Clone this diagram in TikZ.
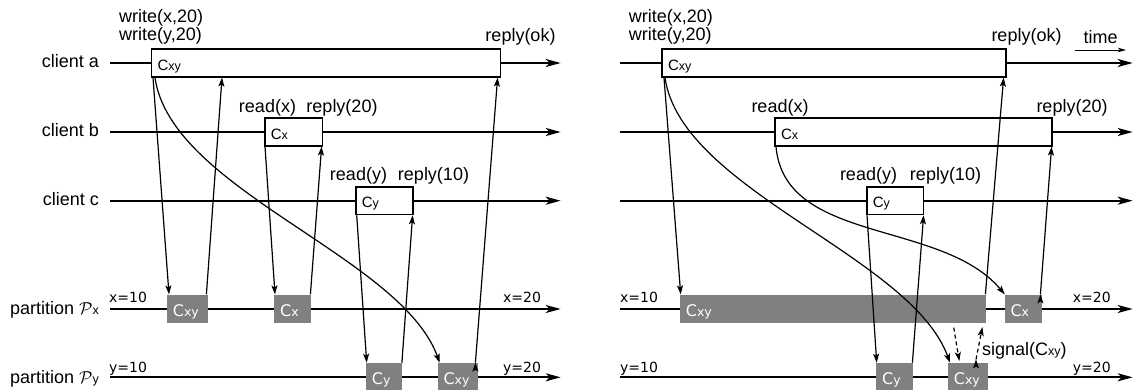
\documentclass[tikz,border=0pt]{standalone}
\usepackage{fontspec}
\setmainfont{Liberation Sans}
\newfontfamily\dejavu{DejaVu Sans}
\usetikzlibrary{positioning,arrows.meta}
\definecolor{opgray}{RGB}{128,128,128}
\newcommand{\idx}[1]{{\fontsize{12.5}{12.5}\selectfont #1}}
\tikzset{lane/.style={line width=2.2pt,-{Stealth[length=15pt,width=8pt,inset=4pt]}},
  call node/.style={draw,fill=white,line width=1.6pt,anchor=west,minimum height=27.5pt,
    inner xsep=6pt,inner ysep=0pt,text width=#1,align=left,text height=14pt,text depth=0pt,
    execute at begin node=\fontsize{15}{15}\selectfont},
  op node/.style={fill=opgray,text=white,anchor=west,minimum height=28.8pt,
    inner xsep=6pt,inner ysep=0pt,text width=#1,align=left,text height=14.6pt,text depth=0pt,
    execute at begin node=\dejavu\fontsize{16}{16}\selectfont},
  msg/.style={draw,line width=1.2pt,-{Stealth[length=9pt,width=6pt,inset=2pt]}},
  tag/.style={inner sep=0pt},
  value/.style={inner sep=0pt,anchor=base west,font=\dejavu\fontsize{14}{14}\selectfont},
}

\begin{document}
\begin{tikzpicture}[x=1pt,y=-1pt,font=\fontsize{18}{16.7}\selectfont]
      \useasboundingbox (0,0) rectangle (1135,389);

      % time lines, left and right run
      \foreach \n/\y in {a/63,b/132,c/200.7,px/309,py/377.3}{
        \coordinate (\n0) at (110,\y);  \coordinate (\n9) at (560.7,\y);
        \coordinate (r\n0) at (620,\y); \coordinate (r\n9) at (1132.7,\y);
        \draw[lane] (\n0) -- (\n9);
        \draw[lane] (r\n0) -- (r\n9);
      }

      \node[tag,anchor=base east] (ta) at (99,67.5) {client a};
      \node[tag,anchor=base east] (tb) at (99,136.5) {client b};
      \node[tag,anchor=base east] (tc) at (99,205.2) {client c};
      \node[tag,anchor=base east] (tx) at (99,314.7) {partition $\mathcal{P}$\idx{x}};
      \node[tag,anchor=base east] (ty) at (99,383) {partition $\mathcal{P}$\idx{y}};

      \node[value] (x1) at (109,302) {x=10};
      \node[value] (x2) at (503,302) {x=20};
      \node[value] (y1) at (109,372.5) {y=10};
      \node[value] (y2) at (503,372.5) {y=20};
      \node[value] (rx1) at (620,302) {x=10};
      \node[value] (rx2) at (1072.7,302) {x=20};
      \node[value] (ry1) at (620,372.5) {y=10};
      \node[value] (ry2) at (1072.7,372.5) {y=20};

      % left run
      \node[call node=337pt] (a1) at (150.7,63) {C\idx{xy}};
      \node[call node=45.7pt] (b1) at (264,132) {C\idx{x}};
      \node[call node=45pt] (c1) at (355,200.7) {C\idx{y}};
      \node[op node=28.6pt] (px1) at (166.7,309) {C\idx{xy}};
      \node[op node=25pt] (px2) at (274,309) {C\idx{x}};
      \node[op node=24.3pt] (py1) at (365.7,377.3) {C\idx{y}};
      \node[op node=28pt] (py2) at (437.3,377.3) {C\idx{xy}};

      \node[tag,anchor=south west,align=left] (w1) at (119,44.5) {write(x,20)\\write(y,20)};
      \node[tag,anchor=base] (ok1) at (520.5,41) {reply(ok)};
      \node[tag,anchor=base] (rx) at (267.5,112.5) {read(x)};
      \node[tag,anchor=base] (re20) at (342,112.5) {reply(20)};
      \node[tag,anchor=base] (ry) at (358.5,180) {read(y)};
      \node[tag,anchor=base] (re10) at (433.5,180) {reply(10)};

      \path[msg]
        ([xshift=2.3pt]a1.south west) edge ([xshift=2.3pt]px1.north west)
        ([xshift=-1.3pt]px1.north east) edge ([xshift=71.3pt]a1.south west)
        ([xshift=4.3pt]a1.south west) edge[out=-82,in=110,looseness=0.72] ([xshift=2.4pt]py2.north west)
        ([xshift=1pt]b1.south west) edge ([xshift=1pt]px2.north west)
        ([xshift=-1pt]px2.north east) edge ([xshift=-1.7pt]b1.south east)
        ([xshift=1.7pt]c1.south west) edge ([xshift=1pt]py1.north west)
        ([xshift=-0.5pt]py1.north east) edge ([xshift=-1pt]c1.south east)
        ([xshift=-2.3pt]py2.north east) edge ([xshift=-3.7pt]a1.south east);

      % right run
      \node[call node=332pt] (ra1) at (661.3,63) {C\idx{xy}};
      \node[call node=264.7pt] (rb1) at (774.3,132) {C\idx{x}};
      \node[call node=44.7pt] (rc1) at (866,200.7) {C\idx{y}};
      \node[op node=294.3pt] (rpx1) at (679.7,309) {C\idx{xy}};
      \node[op node=25.4pt] (rpx2) at (1004.3,309) {C\idx{x}};
      \node[op node=24.7pt] (rpy1) at (876,377.3) {C\idx{y}};
      \node[op node=28pt] (rpy2) at (947.7,377.3) {C\idx{xy}};

      \node[tag,anchor=south west,align=left] (rw1) at (628.7,44.5) {write(x,20)\\write(y,20)};
      \node[tag,anchor=base] (rok1) at (1026.5,41) {reply(ok)};
      \node[tag,anchor=base] (time) at (1100.5,43) {time};
      \coordinate (t0) at (1075,50);
      \coordinate (t1) at (1126,50);
      \draw[line width=1pt,-{Stealth[length=8pt,width=4.5pt,inset=2pt]}] (t0) -- (t1);
      \node[tag,anchor=base] (rrx) at (780,112.5) {read(x)};
      \node[tag,anchor=base] (rre20) at (1072,112.5) {reply(20)};
      \node[tag,anchor=base] (rry) at (868.5,180) {read(y)};
      \node[tag,anchor=base] (rre10) at (945.5,180) {reply(10)};
      \node[tag,anchor=base west] (sig) at (982,355.7) {signal(C\idx{xy})};

      \path[msg]
        ([xshift=2.7pt]ra1.south west) edge ([xshift=1pt]rpx1.north west)
        ([xshift=3.7pt]ra1.south west) edge[out=-82,in=110,looseness=0.72] ([xshift=2.3pt]rpy2.north west)
        ([xshift=1.7pt]rb1.south west) edge[out=-85,in=130,looseness=0.92] ([xshift=0.5pt]rpx2.north west)
        ([xshift=1pt]rc1.south west) edge ([xshift=0.7pt]rpy1.north west)
        ([xshift=-0.7pt]rpy1.north east) edge ([xshift=-0.7pt]rc1.south east)
        ([xshift=-1pt]rpx1.north east) edge ([xshift=-3.3pt]ra1.south east)
        ([xshift=-1.7pt]rpx2.north east) edge ([xshift=-1pt]rb1.south east);

      \path[msg,dash pattern=on 4pt off 3pt]
        ([xshift=-32.7pt,yshift=-4pt]rpx1.south east) edge ([xshift=11.6pt,yshift=1.7pt]rpy2.north west)
        ([xshift=28.3pt,yshift=3.3pt]rpy2.north west) edge ([xshift=-4pt,yshift=-3.4pt]rpx1.south east);

    \end{tikzpicture}
\end{document}
